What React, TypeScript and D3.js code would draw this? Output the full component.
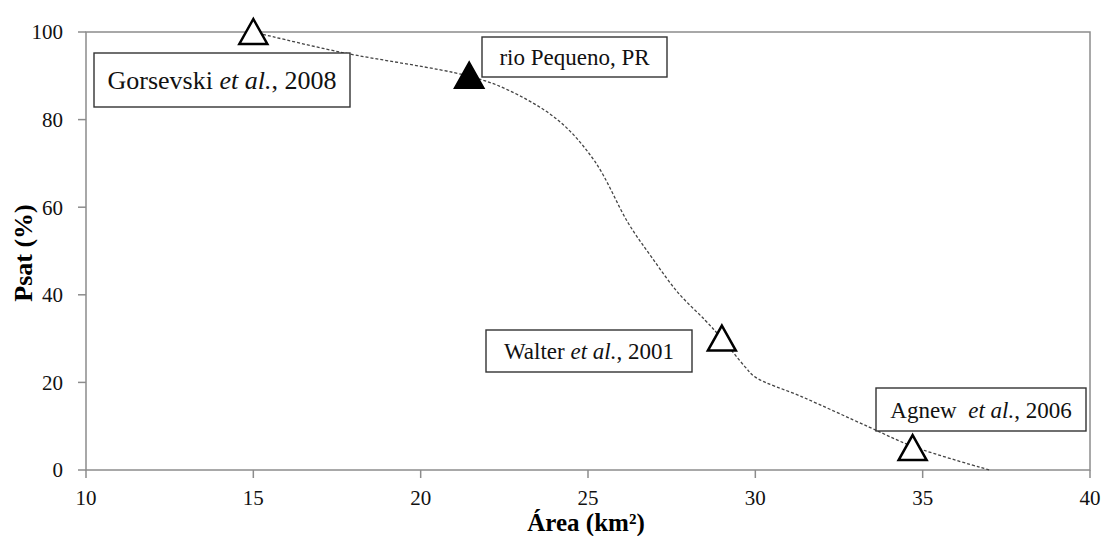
import React from 'react';
import * as d3 from 'd3';

// points (area km², Psat %)
const studyNames = ['Gorsevski', 'rio Pequeno, PR', 'Walter', 'Agnew'];
const studyArea = [15, 21.45, 29, 34.7];
const studyPsat = [100, 90, 30, 5];
const studyFilled = [false, true, false, false];

// dotted trend line
const trendArea = [15, 17.6, 21.4, 22.6, 24.1, 25.2, 26.2, 26.9, 27.7, 28.5, 29, 29.7, 30.0, 31.4, 33.4, 34.7, 37];
const trendPsat = [100, 95.4, 90, 86.8, 79.9, 70.5, 56.4, 48.6, 40.4, 34.2, 30, 23.5, 21.2, 16.7, 9.8, 5.4, 0];

const xTicks = [10, 15, 20, 25, 30, 35, 40];
const yTicks = [0, 20, 40, 60, 80, 100];

// label text pieces: [normal, italic, normal]
const labelParts = [
  ['Gorsevski ', 'et al.', ', 2008'],
  ['rio Pequeno, PR', '', ''],
  ['Walter ', 'et al.', ', 2001'],
  ['Agnew  ', 'et al.', ', 2006'],
];

// box layout in pixels
const labelBoxes = [
  { x: 94, y: 53, w: 256, h: 54, size: 26 },
  { x: 482, y: 37, w: 185, h: 40, size: 23 },
  { x: 486, y: 330, w: 206, h: 42, size: 23 },
  { x: 876, y: 388, w: 210, h: 43, size: 23 },
];

const W = 1102;
const H = 536;
const font = '"Liberation Serif", "Times New Roman", serif';

const App = () => {
  const x = d3.scaleLinear().domain([10, 40]).range([86, 1090]);
  const y = d3.scaleLinear().domain([0, 100]).range([470, 32]);

  const trend = trendArea.map((a, i) => [a, trendPsat[i]] as [number, number]);
  const lineGen = d3
    .line<[number, number]>()
    .x(d => x(d[0]))
    .y(d => y(d[1]))
    .curve(d3.curveCatmullRom.alpha(0.5));

  const tri = (cx: number, cy: number) =>
    `M${cx},${cy - 13}L${cx + 14},${cy + 12}L${cx - 14},${cy + 12}Z`;

  const axisColor = '#8c8c8c';

  return (
    <svg width={W} height={H} style={{ position: 'absolute', left: 0, top: 0, background: '#fff' }}>
      {/* plot frame */}
      <rect x={x(10)} y={y(100)} width={x(40) - x(10)} height={y(0) - y(100)}
        fill="none" stroke={axisColor} strokeWidth={1.5} />

      {/* y ticks */}
      {yTicks.map(t => (
        <g key={'y' + t}>
          <line x1={x(10) - 8} x2={x(10)} y1={y(t)} y2={y(t)} stroke={axisColor} strokeWidth={1.5} />
          <text x={63} y={y(t)} dy="0.35em" textAnchor="end" fontFamily={font} fontSize={21} fill="#111">{t}</text>
        </g>
      ))}

      {/* x ticks */}
      {xTicks.map(t => (
        <g key={'x' + t}>
          <line x1={x(t)} x2={x(t)} y1={y(0)} y2={y(0) + 8} stroke={axisColor} strokeWidth={1.5} />
          <text x={x(t)} y={505} textAnchor="middle" fontFamily={font} fontSize={21} fill="#111">{t}</text>
        </g>
      ))}

      {/* axis titles */}
      <text x={x(25) - 2} y={531} textAnchor="middle" fontFamily={font} fontSize={25} fontWeight="bold">Área (km²)</text>
      <text transform={`translate(32,${(y(0) + y(100)) / 2 + 2}) rotate(-90)`} textAnchor="middle"
        fontFamily={font} fontSize={26} fontWeight="bold">Psat (%)</text>

      {/* trend line */}
      <path d={lineGen(trend) || ''} fill="none" stroke="#444" strokeWidth={1.3} strokeDasharray="3,2" />

      {/* markers */}
      {studyNames.map((n, i) => (
        <path key={n} d={tri(x(studyArea[i]), y(studyPsat[i]))}
          fill={studyFilled[i] ? '#000' : '#fff'} stroke="#000" strokeWidth={2.5} strokeLinejoin="miter" />
      ))}

      {/* labels */}
      {labelParts.map((p, i) => {
        const b = labelBoxes[i];
        return (
          <g key={'l' + i}>
            <rect x={b.x} y={b.y} width={b.w} height={b.h} fill="#fff" stroke="#333" strokeWidth={1.4} />
            <text x={b.x + b.w / 2} y={b.y + b.h / 2} dy="0.35em" textAnchor="middle"
              fontFamily={font} fontSize={b.size} fill="#111" style={{ whiteSpace: 'pre' }}>
              <tspan>{p[0]}</tspan>
              {p[1] && <tspan fontStyle="italic">{p[1]}</tspan>}
              {p[2] && <tspan>{p[2]}</tspan>}
            </text>
          </g>
        );
      })}
    </svg>
  );
};

export default App;
